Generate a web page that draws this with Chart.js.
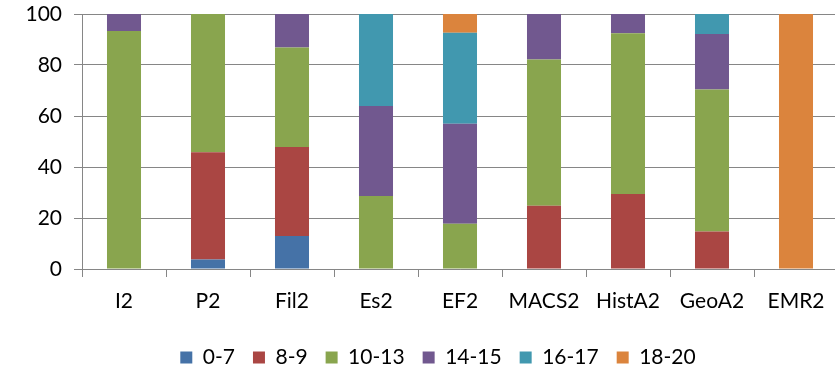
<!DOCTYPE html>
<html>
<head>
<meta charset="utf-8">
<script src="https://cdn.jsdelivr.net/npm/chart.js@4/dist/chart.umd.min.js"></script>
<style>
html,body{margin:0;padding:0;background:#fff;overflow:hidden;}
#wrap{position:relative;width:838px;height:378px;}
</style>
</head>
<body>
<div id="wrap"><canvas id="c"></canvas></div>
<script>
const categories = ["I2","P2","Fil2","Es2","EF2","MACS2","HistA2","GeoA2","EMR2"];
const seriesNames = ["0-7","8-9","10-13","14-15","16-17","18-20"];
const s0_7   = [null, 3.7, 12.9, null, null, null, null, null, null];
const s8_9   = [null, 42.1, 34.9, null, null, 24.8, 29.4, 14.7, null];
const s10_13 = [93.3, 54.2, 39.1, 28.6, 17.7, 57.4, 63.1, 55.7, null];
const s14_15 = [6.7, null, 13.1, 35.3, 39.3, 17.8, 7.5, 21.8, null];
const s16_17 = [null, null, null, 36.1, 35.6, null, null, 7.8, null];
const s18_20 = [null, null, null, null, 7.4, null, null, null, 100];
const yTicks = [0, 20, 40, 60, 80, 100];
const colors = ["#4572A7","#AA4643","#89A54E","#71588F","#4198AF","#DB843D"];

const allSeries = [s0_7, s8_9, s10_13, s14_15, s16_17, s18_20];
const datasets = allSeries.map((d, i) => ({
  label: seriesNames[i],
  data: d,
  backgroundColor: colors[i],
  borderWidth: 0,
  barPercentage: 0.405,
  categoryPercentage: 1.0
}));

const FONT = "Lato, 'Liberation Sans', sans-serif";

// shift the legend block's centring to match the reference
const legendShift = {
  id: 'legendShift',
  afterLayout(chart) {
    const l = chart.legend;
    if (l) { l.left += 38; l.width = l.right - l.left; }
  }
};

new Chart(document.getElementById('c'), {
  type: 'bar',
  data: { labels: categories, datasets },
  plugins: [legendShift],
  options: {
    responsive: true,
    maintainAspectRatio: false,
    animation: false,
    layout: { padding: { top: 14, right: 0, left: 0, bottom: 0 } },
    plugins: {
      legend: {
        position: 'bottom',
        labels: {
          boxWidth: 12, boxHeight: 12,
          color: '#000',
          font: { family: FONT, size: 21 },
          padding: 18
        }
      },
      tooltip: { enabled: false }
    },
    scales: {
      x: {
        stacked: true,
        afterFit: (axis) => { axis.height = 60; },
        grid: {
          display: true, drawOnChartArea: false, drawTicks: true,
          tickLength: 8, color: '#868686', offset: true
        },
        border: { display: true, color: '#868686', width: 1 },
        ticks: { color: '#000', font: { family: FONT, size: 21 }, padding: 12 }
      },
      y: {
        stacked: true,
        min: 0, max: 100,
        afterBuildTicks: (axis) => { axis.ticks = yTicks.map(v => ({ value: v })); },
        afterFit: (axis) => { axis.width = 82; axis.paddingTop = 0; axis.paddingBottom = 0; },
        grid: { color: '#868686', lineWidth: 1, tickLength: 8, drawTicks: true },
        border: { display: true, color: '#868686', width: 1 },
        ticks: { color: '#000', font: { family: FONT, size: 21 }, padding: 12 }
      }
    }
  }
});
</script>
</body>
</html>
